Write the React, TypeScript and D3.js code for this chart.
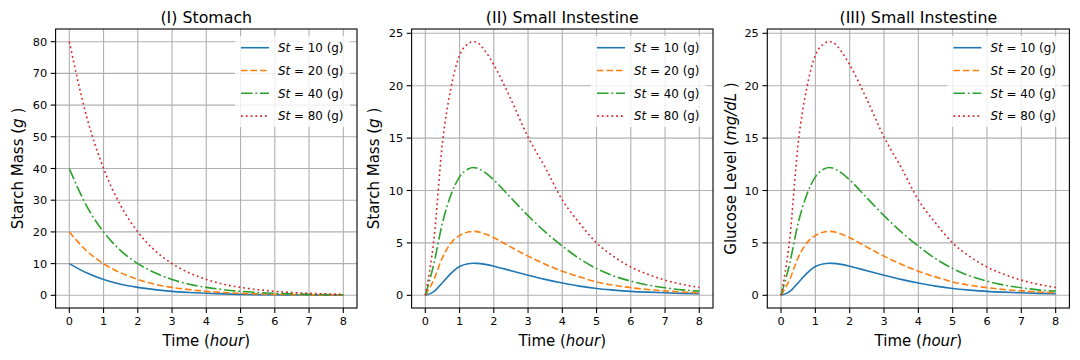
import React from "react";
import * as d3 from "d3";

// ---------- data ----------
const seriesLabels = ["10", "20", "40", "80"];
const seriesColors = ["#1f77b4", "#ff7f0e", "#2ca02c", "#d62728"];
const seriesDashes = ["", "6.6,2.9", "11.5,2.9,1.8,2.9", "1.8,3.0"];

const stomachTime = [0, 0.5, 1, 1.5, 2, 2.5, 3, 3.5, 4, 4.5, 5, 5.5, 6, 6.5, 7, 7.5, 8];
const stomach10 = [10, 7.1, 5, 3.5, 2.5, 1.8, 1.25, 0.9, 0.63, 0.44, 0.31, 0.22, 0.16, 0.11, 0.08, 0.06, 0.04];
const stomach20 = [20, 14.1, 10, 7.1, 5, 3.5, 2.5, 1.8, 1.25, 0.9, 0.63, 0.44, 0.31, 0.22, 0.16, 0.11, 0.08];
const stomach40 = [40, 28.3, 20, 14.1, 10, 7.1, 5, 3.5, 2.5, 1.8, 1.25, 0.9, 0.63, 0.44, 0.31, 0.22, 0.16];
const stomach80 = [80, 56.6, 40, 28.3, 20, 14.1, 10, 7.1, 5, 3.5, 2.5, 1.8, 1.25, 0.9, 0.63, 0.44, 0.31];

const intestineTime = [0, 0.25, 0.5, 0.75, 1, 1.25, 1.4, 1.5, 1.75, 2, 2.5, 3, 3.5, 4, 4.5, 5, 5.5, 6, 6.5, 7, 7.5, 8];
const intestine10 = [0, 0.35, 1.2, 2.1, 2.75, 3.02, 3.06, 3.05, 2.95, 2.78, 2.35, 1.92, 1.52, 1.18, 0.88, 0.65, 0.5, 0.38, 0.3, 0.24, 0.19, 0.16];
const intestine20 = [0, 1.5, 3.6, 5.0, 5.7, 6.05, 6.1, 6.08, 5.85, 5.5, 4.6, 3.74, 2.97, 2.3, 1.76, 1.28, 0.96, 0.73, 0.55, 0.42, 0.32, 0.24];
const intestine40 = [0, 3.0, 6.9, 9.6, 11.3, 12.05, 12.2, 12.15, 11.7, 11.0, 9.3, 7.6, 6.05, 4.7, 3.5, 2.55, 1.85, 1.35, 0.98, 0.72, 0.52, 0.4];
const intestine80 = [0, 5.3, 14.5, 19.8, 22.9, 24.0, 24.2, 24.15, 23.3, 22.0, 18.7, 15.1, 12.2, 9.1, 6.9, 5.0, 3.7, 2.7, 2.0, 1.45, 1.05, 0.75];

const glucoseTime = intestineTime;
const glucose10 = intestine10;
const glucose20 = intestine20;
const glucose40 = intestine40;
const glucose80 = intestine80;

const xTicks = [0, 1, 2, 3, 4, 5, 6, 7, 8];
const stomachTicks = [0, 10, 20, 30, 40, 50, 60, 70, 80];
const intestineTicks = [0, 5, 10, 15, 20, 25];

// ---------- layout ----------
const W = 1080;
const H = 360;
const TOP = 29;
const BOTTOM = 308;
const FONT = "DejaVu Sans, Liberation Sans, sans-serif";
const TICK_FS = 11.3;
const LEG_FS = 11.9;
const TITLE_FS = 15.8;
const LABEL_FS = 15;

const panels = [
  {
    title: "(I) Stomach",
    left: 55.6,
    right: 357,
    yDomain: [-4, 84],
    yTicks: stomachTicks,
    yLabel: ["Starch Mass (", "g", " )"],
    yLabelX: 18,
    time: stomachTime,
    series: [stomach10, stomach20, stomach40, stomach80],
  },
  {
    title: "(II) Small Instestine",
    left: 411.6,
    right: 713,
    yDomain: [-1.21, 25.41],
    yTicks: intestineTicks,
    yLabel: ["Starch Mass (", "g", " )"],
    yLabelX: 374,
    time: intestineTime,
    series: [intestine10, intestine20, intestine40, intestine80],
  },
  {
    title: "(III) Small Instestine",
    left: 767.3,
    right: 1069.4,
    yDomain: [-1.21, 25.41],
    yTicks: intestineTicks,
    yLabel: ["Glucose Level (", "mg/dL", " )"],
    yLabelX: 731,
    time: glucoseTime,
    series: [glucose10, glucose20, glucose40, glucose80],
  },
];

function Panel({ p }: { p: any }) {
  const x = d3.scaleLinear().domain([-0.4, 8.4]).range([p.left, p.right]);
  const y = d3.scaleLinear().domain(p.yDomain).range([BOTTOM, TOP]);
  const line = d3
    .line<number>()
    .x((_, i) => x(p.time[i]))
    .y((d) => y(d))
    .curve(d3.curveMonotoneX);
  const cx = (p.left + p.right) / 2;
  const cy = (TOP + BOTTOM) / 2;
  const legRight = p.right;
  const rowY = (i: number) => TOP + 18.7 + i * 22.8;
  return (
    <g>
      {xTicks.map((t) => (
        <line key={"gx" + t} x1={x(t)} x2={x(t)} y1={TOP} y2={BOTTOM} stroke="#b0b0b0" strokeWidth={1.1} />
      ))}
      {p.yTicks.map((t: number) => (
        <line key={"gy" + t} x1={p.left} x2={p.right} y1={y(t)} y2={y(t)} stroke="#b0b0b0" strokeWidth={1.1} />
      ))}
      {p.series.map((s: number[], i: number) => (
        <path
          key={"s" + i}
          d={line(s) || ""}
          fill="none"
          stroke={seriesColors[i]}
          strokeWidth={1.6}
          strokeDasharray={seriesDashes[i] || undefined}
        />
      ))}
      <rect x={p.left} y={TOP} width={p.right - p.left} height={BOTTOM - TOP} fill="none" stroke="#000" strokeWidth={1.1} />
      {xTicks.map((t) => (
        <g key={"tx" + t}>
          <line x1={x(t)} x2={x(t)} y1={BOTTOM} y2={BOTTOM + 4.9} stroke="#000" strokeWidth={1.1} />
          <text x={x(t)} y={BOTTOM + 16.5} textAnchor="middle" fontSize={TICK_FS} fontFamily={FONT} fill="#000">
            {t}
          </text>
        </g>
      ))}
      {p.yTicks.map((t: number) => (
        <g key={"ty" + t}>
          <line x1={p.left - 4.9} x2={p.left} y1={y(t)} y2={y(t)} stroke="#000" strokeWidth={1.1} />
          <text x={p.left - 8.5} y={y(t) + 4.1} textAnchor="end" fontSize={TICK_FS} fontFamily={FONT} fill="#000">
            {t}
          </text>
        </g>
      ))}
      <text x={cx} y={22.5} textAnchor="middle" fontSize={TITLE_FS} fontFamily={FONT} fill="#000">
        {p.title}
      </text>
      <text x={cx} y={345.5} textAnchor="middle" fontSize={LABEL_FS} fontFamily={FONT} fill="#000">
        Time (<tspan fontStyle="italic">hour</tspan>)
      </text>
      <text
        x={0}
        y={0}
        transform={`translate(${p.yLabelX + 5.3},${cy}) rotate(-90)`}
        textAnchor="middle"
        fontSize={LABEL_FS}
        fontFamily={FONT}
        fill="#000"
      >
        {p.yLabel[0]}
        <tspan fontStyle="italic">{p.yLabel[1]}</tspan>
        {p.yLabel[2]}
      </text>
      <rect x={legRight - 122} y={TOP + 7} width={115} height={91} fill="#fff" fillOpacity={0.8} />
      {seriesLabels.map((lab, i) => (
        <g key={"lg" + i}>
          <line
            x1={legRight - 116}
            x2={legRight - 88}
            y1={rowY(i)}
            y2={rowY(i)}
            stroke={seriesColors[i]}
            strokeWidth={1.6}
            strokeDasharray={seriesDashes[i] || undefined}
          />
          <text x={legRight - 79} y={rowY(i) + 4.3} fontSize={LEG_FS} fontFamily={FONT} fill="#000">
            <tspan fontStyle="italic">St</tspan> = {lab} (g)
          </text>
        </g>
      ))}
    </g>
  );
}

export default function App() {
  return (
    <div style={{ position: "fixed", left: 0, top: 0, width: W, height: H, background: "#fff" }}>
      <svg width={W} height={H} viewBox={`0 0 ${W} ${H}`}>
        <rect x={0} y={0} width={W} height={H} fill="#fff" />
        {panels.map((p, i) => (
          <Panel key={i} p={p} />
        ))}
      </svg>
    </div>
  );
}
